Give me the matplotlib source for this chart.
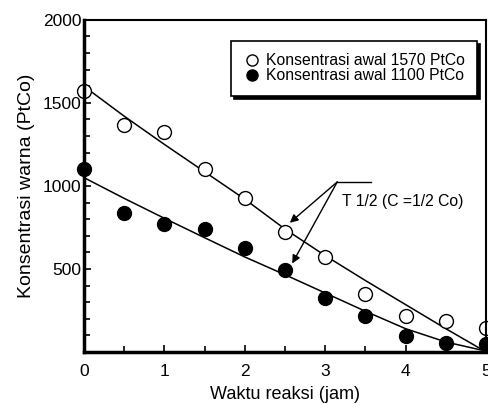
import matplotlib.pyplot as plt
import numpy as np

plt.rcParams['font.family'] = ['Liberation Sans', 'DejaVu Sans']

# measured data
waktu = [0, 0.5, 1, 1.5, 2, 2.5, 3, 3.5, 4, 4.5, 5]
awal_1570 = [1570, 1365, 1323, 1102, 928, 724, 569, 347, 216, 186, 144]
awal_1100 = [1100, 838, 772, 743, 623, 491, 323, 216, 96, 54, 48]

# fitted curves
fit_1570 = [1600, 1420, 1250, 1085, 920, 740, 580, 430, 285, 140, 0]
fit_1100 = [1050, 925, 805, 688, 572, 465, 355, 245, 140, 60, 5]

fig = plt.figure(figsize=(4.88, 4.05), dpi=100)
ax = fig.add_axes([0.172, 0.131, 0.824, 0.82])

ax.plot(waktu, fit_1570, color='black', lw=1.1)
ax.plot(waktu, fit_1100, color='black', lw=1.1)
ax.plot(waktu, awal_1570, 'o', ms=10, mfc='white', mec='black', mew=1.0,
        clip_on=False, label='Konsentrasi awal 1570 PtCo')
ax.plot(waktu, awal_1100, 'o', ms=10, mfc='black', mec='black',
        clip_on=False, label='Konsentrasi awal 1100 PtCo')

ax.set_xlim(0, 5)
ax.set_ylim(0, 2000)
ax.set_xticks([0, 1, 2, 3, 4, 5])
ax.set_xticks(np.arange(0, 5.01, 0.5), minor=True)
ax.set_yticks([500, 1000, 1500, 2000])
ax.set_yticks(np.arange(0, 2001, 100), minor=True)
ax.tick_params(which='both', direction='in', labelsize=12.5)
ax.tick_params(which='major', length=5, width=1.2)
ax.tick_params(which='minor', length=4, width=1.2)
ax.tick_params(axis='x', pad=9)
ax.tick_params(axis='y', pad=2)

for s in ['left', 'bottom']:
    ax.spines[s].set_linewidth(2.5)
for s in ['top', 'right']:
    ax.spines[s].set_linewidth(1.5)

ax.set_xlabel('Waktu reaksi (jam)', fontsize=13, labelpad=5)
ax.set_ylabel('Konsentrasi warna (PtCo)', fontsize=14, labelpad=5)

leg = ax.legend(loc='upper right', bbox_to_anchor=(0.978, 0.937), fontsize=11.3,
                handletextpad=0.4, handlelength=1.0, labelspacing=0.0,
                borderpad=0.8, borderaxespad=0, fancybox=False,
                markerscale=0.8, shadow={'color': 'black', 'alpha': 1})
leg.get_frame().set_edgecolor('black')
leg.get_frame().set_linewidth(1.2)

# half-life annotation
ax.plot([3.15, 3.57], [1024, 1024], color='black', lw=1)
for tip in [(2.56, 778), (2.59, 533)]:
    ax.annotate('', xy=tip, xytext=(3.15, 1024),
                arrowprops=dict(arrowstyle='-|>', color='black', lw=1,
                                mutation_scale=12, shrinkA=0, shrinkB=0))
ax.text(3.21, 905, 'T 1/2 (C =1/2 Co)', fontsize=11.3, va='center', ha='left')

fig.savefig('out.png', dpi=100)
